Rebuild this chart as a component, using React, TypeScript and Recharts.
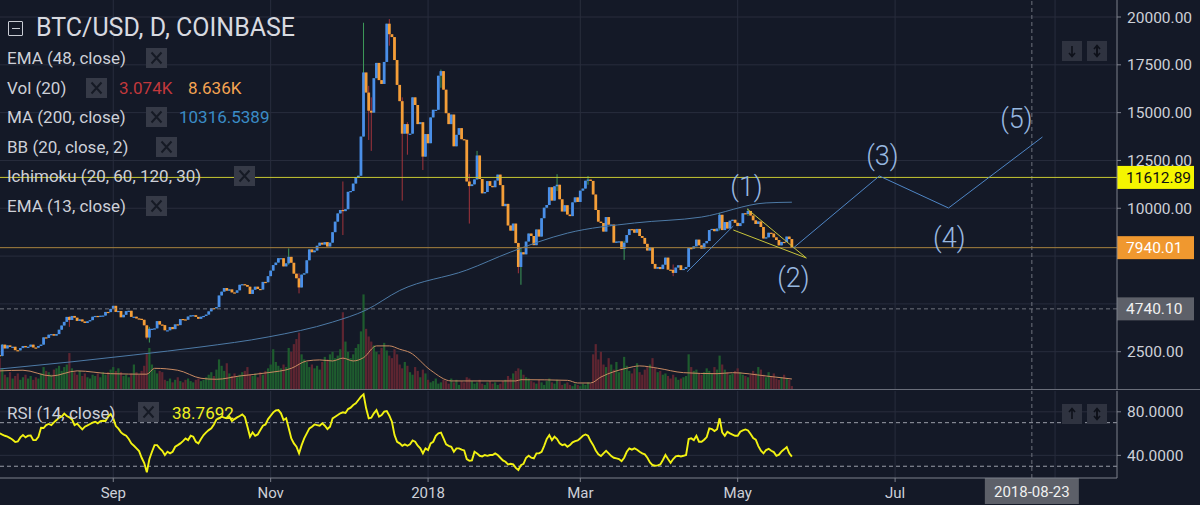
import React from 'react';
import { ComposedChart, Bar, Line, XAxis, YAxis, ReferenceLine, ReferenceDot, CartesianGrid } from 'recharts';

// ---------- DATA (day index 0 = 2017-07-19, BTC/USD daily, Coinbase) ----------
const START_OPEN = 2320;
const closeJul17 = [2280, 2870, 2670, 2830, 2750, 2760, 2580, 2570, 2690, 2800, 2730, 2760, 2870];
const closeAug17 = [2720, 2710, 2800, 2870, 3250, 3220, 3390, 3420, 3340, 3420, 3650, 3870, 4060, 4320, 4160, 4370, 4280, 4110, 4190, 4080, 4000, 4090, 4150, 4330, 4370, 4350, 4380, 4390, 4580, 4570, 4740];
const closeSep17 = [4900, 4580, 4630, 4300, 4430, 4620, 4640, 4320, 4330, 4240, 4220, 4170, 3880, 3240, 3700, 3700, 3720, 4100, 3920, 3890, 3620, 3620, 3790, 3680, 3930, 3890, 4210, 4190, 4170, 4340];
const closeOct17 = [4400, 4410, 4320, 4220, 4330, 4370, 4440, 4610, 4780, 4770, 4830, 5440, 5640, 5830, 5690, 5760, 5600, 5580, 5710, 6000, 6030, 5990, 5900, 5520, 5740, 5900, 5780, 5750, 6150, 6130, 6450];
const closeNov17 = [6740, 7030, 7160, 7390, 7390, 6960, 7120, 7460, 7150, 6580, 6340, 5860, 6530, 6600, 7280, 7850, 7700, 7790, 8040, 8200, 8100, 8230, 8000, 8200, 8750, 9300, 9730, 9910, 9850, 9950];
const closeDec17 = [10860, 10900, 11290, 11620, 11700, 13750, 17100, 16050, 15100, 15000, 16800, 17600, 16700, 16500, 17650, 19650, 19100, 18950, 17750, 16450, 15600, 13900, 14400, 13900, 13900, 15800, 15400, 14400, 14500, 12700, 13880];
const closeJan18 = [13400, 14750, 15150, 15150, 16930, 17170, 16200, 14970, 14400, 14900, 13240, 13840, 14190, 13610, 13580, 11400, 11160, 11250, 11510, 12760, 11530, 10780, 10850, 11420, 11170, 11100, 11450, 11760, 11210, 10110, 10230];
const closeFeb18 = [9100, 8830, 9200, 8180, 6930, 7700, 7590, 8260, 8680, 8550, 8070, 8890, 8520, 9480, 10030, 10170, 11100, 10400, 11150, 11230, 10470, 9830, 10160, 9670, 9590, 10310, 10570, 10330];
const closeMar18 = [10920, 11030, 11440, 11500, 11430, 10720, 9910, 9300, 9230, 8780, 9540, 9140, 9150, 8200, 8260, 8270, 7870, 8200, 8600, 8910, 8900, 8720, 8920, 8550, 8450, 8140, 7790, 7950, 7090, 6840, 6930];
const closeApr18 = [6820, 7050, 7420, 6790, 6780, 6620, 6900, 7020, 6770, 6830, 6930, 7920, 7890, 8010, 8360, 8060, 7890, 8170, 8290, 8860, 8920, 8800, 8940, 9660, 8860, 9280, 8940, 9350, 9400, 9240];
const closeMay18 = [9070, 9220, 9740, 9700, 9860, 9620, 9370, 9180, 9310, 9020, 8420, 8480, 8720, 8680, 8480, 8340, 8060, 8240, 8230, 8520, 8390, 7940.01];

// notable wicks: [day, high, low]
const wicks: [number, number, number][] = [
  [1, 2900, 2260], [27, 4350, 3800], [57, 3900, 3150], [58, 3800, 2980], [112, 7900, 7050],
  [116, 6600, 5550], [133, 11400, 8600], [141, 19700, 13750], [143, 16400, 13570], [144, 15800, 13000],
  [151, 19891, 18500], [156, 15800, 10400], [158, 14500, 12800], [164, 14500, 12000], [171, 17250, 16300],
  [182, 11800, 9200], [185, 13000, 11500], [201, 8200, 6600], [202, 7900, 6000], [216, 11780, 10900],
  [228, 11690, 11230], [242, 8300, 7300], [261, 7060, 6450], [279, 9760, 8840], [290, 9990, 9600],
];

// volume (thousand BTC)
const volJul17 = [25, 17, 12, 10, 14, 9, 11, 13, 8, 10, 12, 9, 11];
const volAug17 = [8, 10, 9, 13, 18, 15, 14, 12, 16, 17, 19, 15, 18, 20, 29, 17, 14, 12, 15, 11, 13, 10, 9, 12, 11, 13, 10, 14, 12, 14, 16];
const volSep17 = [18, 15, 17, 14, 11, 12, 10, 13, 20, 14, 12, 15, 19, 29, 33, 20, 16, 13, 15, 14, 8, 7, 9, 6, 8, 10, 7, 6, 8, 9];
const volOct17 = [7, 6, 8, 9, 7, 8, 10, 12, 14, 11, 16, 24, 19, 15, 21, 13, 11, 13, 10, 12, 14, 15, 18, 12, 11, 13, 10, 14, 12, 15, 17];
const volNov17 = [20, 32, 22, 19, 17, 20, 18, 33, 30, 36, 40, 45, 28, 24, 22, 18, 20, 17, 19, 16, 22, 26, 24, 28, 30, 25, 27, 32, 61, 38];
const volDec17 = [30, 25, 28, 33, 36, 46, 75, 48, 42, 38, 35, 30, 28, 33, 37, 31, 27, 25, 32, 28, 20, 17, 22, 19, 14, 12, 18, 15, 10, 16, 13];
const volJan18 = [8, 6, 7, 9, 5, 6, 8, 7, 5, 9, 6, 8, 4, 7, 6, 10, 9, 7, 5, 6, 8, 5, 4, 6, 7, 5, 6, 4, 5, 7, 8];
const volFeb18 = [11, 9, 13, 15, 17, 16, 12, 10, 9, 7, 6, 5, 8, 6, 4, 7, 9, 6, 5, 8, 7, 4, 5, 6, 4, 3, 5, 4];
const volMar18 = [3, 5, 4, 6, 5, 28, 36, 24, 30, 20, 18, 25, 20, 16, 22, 14, 17, 26, 19, 15, 13, 17, 21, 14, 12, 16, 18, 20, 25, 17, 14];
const volApr18 = [15, 12, 13, 11, 9, 12, 10, 8, 9, 10, 11, 28, 18, 15, 16, 13, 12, 14, 17, 15, 13, 18, 16, 27, 20, 16, 14, 12, 13, 15];
const volMay18 = [17, 14, 12, 11, 10, 12, 15, 13, 18, 16, 12, 10, 14, 11, 13, 9, 8, 10, 12, 9, 8, 3.074];

// Vol MA(20) read points [day, value]
const volMaPoints: [number, number][] = [
  [0, 15], [9, 15.5], [20, 11], [30, 15], [43, 12.8], [57, 12.4], [60, 17], [69, 15.5], [78, 9.2], [84, 8.4],
  [93, 11], [104, 13.6], [113, 17], [119, 22.8], [124, 23.6], [129, 22.8], [133, 25], [137, 22.8], [141, 25.4],
  [146, 34.6], [151, 34.6], [155, 32], [159, 29.4], [167, 15.5], [175, 7.1], [200, 7.1], [202, 8.1], [220, 7.6],
  [224, 5.5], [229, 5.5], [233, 10.2], [243, 17.1], [248, 18.9], [255, 17.1], [265, 13.6], [278, 12.8],
  [284, 13.6], [297, 11], [307, 8.636],
];

// MA(200) read points [day, value]
const ma200Points: [number, number][] = [
  [0, 1600], [4, 1650], [52, 2330], [78, 2750], [104, 3270], [129, 4050], [142, 4680], [155, 5700],
  [181, 6770], [198, 7710], [220, 8700], [246, 9230], [272, 9540], [297, 10280], [307, 10316.5389],
];

// RSI(14)
const rsiJul17 = [60.2, 59, 58, 57.1, 55.9, 54.3, 52.2, 52.8, 56.5, 58.6, 56.5, 58, 58.3];
const rsiAug17 = [54, 54, 57.1, 65.4, 65.1, 67.8, 68.8, 67.8, 70.3, 72.4, 74.6, 75.5, 78.3, 76.1, 74.9, 73, 67.8, 69.1, 66.3, 63.8, 66.3, 67.5, 68.8, 70, 70.9, 69.4, 71.5, 71.8, 71.5, 75.5, 78];
const rsiSep17 = [74, 66.9, 64.5, 61.1, 59.2, 58, 55, 51, 48.8, 46.4, 43.9, 37.8, 33, 24.5, 36.6, 43.3, 49.4, 49.4, 46.4, 44.2, 40.3, 43.3, 41.8, 43.3, 47.9, 49.4, 51, 53.1, 55.6, 54];
const rsiOct17 = [58, 57.1, 52.5, 51, 55, 58.6, 61.1, 63.2, 64.8, 68.4, 73, 74, 75.5, 74.6, 74, 75.5, 71.5, 73.3, 74.9, 76.1, 77.6, 75.2, 66.3, 57.1, 61.1, 58, 59.2, 63.2, 67.2, 68.4, 73.3];
const rsiNov17 = [76.4, 79.5, 81.3, 81.6, 78.6, 72.4, 74, 64.8, 55.6, 51, 47.9, 41.8, 49.4, 55.6, 60.2, 64.8, 66.3, 68.4, 67.8, 67.2, 69.4, 67.2, 64.2, 66.3, 74, 75.5, 77, 78.6, 79.5, 78.9];
const rsiDec17 = [82.5, 83.8, 86.2, 87.7, 90.8, 93.9, 96, 83.2, 74, 74.6, 78.6, 81.6, 75.5, 77, 80.1, 80.7, 76.4, 70.9, 58.6, 52.5, 51, 48.8, 50.1, 48.8, 50.1, 53.7, 52.5, 48.8, 46.4, 41.8, 46.4];
const rsiJan18 = [44.9, 51, 52.5, 58, 60.2, 60.8, 55.6, 50.1, 48.8, 47.9, 43.3, 46.4, 46.4, 45.2, 44.5, 36.6, 35, 35.4, 43.3, 41.8, 39.6, 39, 40.3, 39.6, 40.3, 40.3, 41.8, 40.3, 37.8, 35.4, 34.1];
const rsiFeb18 = [31.7, 32.3, 31.7, 28.5, 26.5, 31, 32.3, 37.8, 39.6, 37.8, 37.2, 41.8, 41.8, 43.3, 48.8, 55, 58.6, 54, 57.1, 55, 51, 49.4, 50.1, 47.9, 49.4, 51.9, 53.1, 53.7];
const rsiMar18 = [55.6, 58, 59.2, 58, 53.1, 49.4, 44.5, 40.9, 39.3, 41.8, 44.2, 41.8, 39.3, 37.8, 37.2, 36.6, 34.7, 37.8, 43.3, 46.4, 45.2, 46.4, 45.2, 43.3, 41.8, 40.9, 37.8, 33.5, 31.1, 30.5, 30.8];
const rsiApr18 = [31.7, 35.7, 40.3, 36.6, 33.2, 36.6, 39, 39.6, 39, 39.6, 40.3, 55, 55.6, 54, 58, 52.5, 52.5, 54.4, 56.8, 64.8, 64.2, 62.3, 64, 74, 61.1, 58, 61.7, 60.2, 59, 58];
const rsiMay18 = [58, 61.7, 62.9, 63.8, 62.9, 59.6, 55.9, 54.4, 48.5, 44.2, 41.8, 44.9, 46, 44.2, 43, 39.6, 40.6, 43.6, 45.5, 47.6, 41.8, 38.7692];

// axes / levels / drawings
const xGridTicks = [44, 105, 166, 225, 286, 347, 409];
const xTickLabels: Record<number, string> = { 44: 'Sep', 105: 'Nov', 166: '2018', 225: 'Mar', 286: 'May', 347: 'Jul' };
const priceTicks = [2500, 5000, 7500, 10000, 12500, 15000, 17500, 20000];
const priceLabelTicks = [2500, 10000, 12500, 15000, 17500, 20000];
const rsiTicks = [40, 80];
const rsiBands = [30, 70];
const resistanceLevel = 11612.89;
const crossPrice = 4740.1;
const crossDay = 400;
const crossDateLabel = '2018-08-23';
const impulseLeg: [number, number][] = [[266.4, 6680], [284.3, 9072]];
const wedgeUpper: [number, number][] = [[289.7, 9961], [312.6, 7400]];
const wedgeLower: [number, number][] = [[284.3, 8863], [312.6, 7400]];
const wavePath: [number, number][] = [[307.6, 7926], [340.9, 11687], [367.7, 10014], [404.1, 13726]];
const waveLabels: [string, number, number][] = [
  ['(1)', 289.4, 11164], ['(2)', 307.6, 6406], ['(3)', 342.1, 12785], ['(4)', 368, 8497], ['(5)', 394, 14719],
];

// ---------- STYLE ----------
const X_MIN = 0.1, X_MAX = 433;
const P_MIN = 498, P_MAX = 20889;
const VOL_MAX = 306;
const RSI_MIN = 19.2, RSI_MAX = 99.1;
const BG = '#141927';
const GRID = '#282d3d';
const AXIS = '#7d818c';
const TEXT = '#cdd0d8';
const UP = '#4a8fe8';
const DOWN = '#f49e38';
const WICK_UP = '#3d9a5a';
const WICK_DOWN = '#a3343c';
const VOL_UP = '#1e5c2e';
const VOL_DOWN = '#5e2531';
const RSI_COLOR = '#f2f212';
const WAVE = '#4f86c6';
const WAVE_TEXT = '#98b8e0';
const FONT = 'Roboto, "Liberation Sans", sans-serif';

// ---------- build table ----------
const closes = [...closeJul17, ...closeAug17, ...closeSep17, ...closeOct17, ...closeNov17, ...closeDec17, ...closeJan18, ...closeFeb18, ...closeMar18, ...closeApr18, ...closeMay18];
const volumes = [...volJul17, ...volAug17, ...volSep17, ...volOct17, ...volNov17, ...volDec17, ...volJan18, ...volFeb18, ...volMar18, ...volApr18, ...volMay18];
const rsiSeries = [...rsiJul17, ...rsiAug17, ...rsiSep17, ...rsiOct17, ...rsiNov17, ...rsiDec17, ...rsiJan18, ...rsiFeb18, ...rsiMar18, ...rsiApr18, ...rsiMay18];
const maMap = new Map(ma200Points);
const vmaMap = new Map(volMaPoints);
const wickMap = new Map(wicks.map((w) => [w[0], w]));

const data = closes.map((c, i) => {
  const o = i === 0 ? START_OPEN : closes[i - 1];
  const w = wickMap.get(i);
  const hi = Math.max(o, c, w ? w[1] : 0);
  const lo = Math.min(o, c, w ? w[2] : Infinity);
  return {
    i, o, c, hi, lo, range: [lo, hi],
    vol: volumes[i] ?? 0,
    ma: maMap.has(i) ? maMap.get(i) : null,
    vma: vmaMap.has(i) ? vmaMap.get(i) : null,
    rsi: rsiSeries[i] ?? null,
  };
});
const last = data[data.length - 1];

// ---------- shapes ----------
function Candle(props: any) {
  const { x, y, width, height, payload } = props;
  if (!payload || x == null || y == null) return null;
  const { o, c, hi, lo } = payload;
  const top = Math.min(y, y + height);
  const h = Math.abs(height || 0);
  const cx = x + (width || 0) / 2;
  const k = hi > lo ? h / (hi - lo) : 0;
  const py = (v: number) => top + (hi - v) * k;
  const up = c >= o;
  const bTop = py(Math.max(o, c));
  const bH = Math.max(1.2, Math.abs(py(o) - py(c)));
  return (
    <g>
      {h > 0 && <line x1={cx} x2={cx} y1={top} y2={top + h} stroke={up ? WICK_UP : WICK_DOWN} strokeWidth={1} />}
      <rect x={cx - 1.4} y={bTop} width={2.8} height={bH} fill={up ? UP : DOWN} />
    </g>
  );
}

function VolBar(props: any) {
  const { x, y, width, height, payload } = props;
  if (!payload || x == null) return null;
  const cx = x + (width || 0) / 2;
  return <rect x={cx - 1.1} y={Math.min(y, y + height)} width={2.2} height={Math.abs(height || 0)} fill={payload.c >= payload.o ? VOL_UP : VOL_DOWN} />;
}

const priceTag = (text: string, bg: string, color: string) => (p: any) => {
  const vb = p.viewBox || {};
  const x0 = vb.x + vb.width;
  const yc = vb.y;
  return (
    <g>
      <rect x={x0} y={yc - 11.5} width={77} height={23} fill={bg} />
      <text x={x0 + 9} y={yc} dy="0.36em" fill={color} fontSize={15.5} fontFamily={FONT}>{text}</text>
    </g>
  );
};

const dateTag = (p: any) => {
  const vb = p.viewBox || {};
  const cx = vb.x;
  const yb = vb.y + vb.height;
  return (
    <g>
      <rect x={cx - 47} y={yb} width={94} height={27} fill="#5d6069" />
      <text x={cx} y={yb + 14} dy="0.36em" textAnchor="middle" fill="#f0f0f0" fontSize={15} fontFamily={FONT}>{crossDateLabel}</text>
    </g>
  );
};

// ---------- HTML decorations ----------
const XBox = ({ left, top }: { left: number; top: number }) => (
  <div style={{ position: 'absolute', left, top, width: 21, height: 20, background: '#363a47' }}>
    <svg width={21} height={20} style={{ display: 'block' }}>
      <path d="M5.5 4.5 L15.5 15.5 M15.5 4.5 L5.5 15.5" stroke="#161a25" strokeWidth={2} />
    </svg>
  </div>
);

const ArrowBtn = ({ left, top, kind }: { left: number; top: number; kind: 'down' | 'up' | 'both' }) => (
  <div style={{ position: 'absolute', left, top, width: 20, height: 20, background: '#2f3340' }}>
    <svg width={20} height={20} style={{ display: 'block' }}>
      {kind !== 'up' && <path d="M10 5 L10 15 M7 12 L10 15.5 L13 12" stroke="#0e111a" strokeWidth={1.6} fill="none" />}
      {kind !== 'down' && <path d="M10 15 L10 5 M7 8 L10 4.5 L13 8" stroke="#0e111a" strokeWidth={1.6} fill="none" />}
    </svg>
  </div>
);

const Txt = ({ left, cy, size, color, children }: any) => (
  <div style={{ position: 'absolute', left, top: cy - size * 0.65, fontSize: size, lineHeight: `${size * 1.3}px`, color, fontFamily: FONT, whiteSpace: 'nowrap' }}>{children}</div>
);

const Overlay = () => {
  const rows: [string, number, number][] = [
    ['EMA (48, close)', 58, 146],
    ['Vol (20)', 88, 86],
    ['MA (200, close)', 117, 146],
    ['BB (20, close, 2)', 147, 156],
    ['Ichimoku (20, 60, 120, 30)', 176, 234],
    ['EMA (13, close)', 206, 146],
  ];
  return (
    <>
      <div style={{ position: 'absolute', left: 8, top: 21, width: 13, height: 13, border: '1.5px solid #c9ccd4', borderRadius: 1 }}>
        <div style={{ position: 'absolute', left: 2.5, top: 5.5, width: 8, height: 1.5, background: '#c9ccd4' }} />
      </div>
      <Txt left={36} cy={28} size={25} color="#d8dae0">BTC/USD, D, COINBASE</Txt>
      {rows.map(([t, cy, bx]) => (
        <React.Fragment key={t}>
          <Txt left={7} cy={cy} size={17} color={TEXT}>{t}</Txt>
          <XBox left={bx} top={cy - 10} />
        </React.Fragment>
      ))}
      <Txt left={119} cy={88} size={17} color="#c2383c">{last.vol.toFixed(3)}K</Txt>
      <Txt left={188} cy={88} size={17} color="#f5a452">{(last.vma as number).toFixed(3)}K</Txt>
      <Txt left={179} cy={117} size={17} color="#3a8cc6">{(last.ma as number).toFixed(4)}</Txt>
      <ArrowBtn left={1062} top={41} kind="down" />
      <ArrowBtn left={1087} top={41} kind="both" />
      <div style={{ position: 'absolute', left: 0, top: 389, width: 1200, height: 1, background: '#6a6e7a' }} />
      <Txt left={7} cy={413} size={17} color={TEXT}>RSI (14, close)</Txt>
      <XBox left={138} top={402} />
      <Txt left={172} cy={413} size={17} color="#f0f020">{(last.rsi as number).toFixed(4)}</Txt>
      <ArrowBtn left={1062} top={404} kind="up" />
      <ArrowBtn left={1087} top={404} kind="both" />
    </>
  );
};

export default function App() {
  const yTick = { fill: TEXT, fontSize: 15.5, fontFamily: FONT };
  return (
    <div style={{ position: 'fixed', left: 0, top: 0, width: 1200, height: 513, background: '#ffffff', overflow: 'hidden' }}>
      <div style={{ position: 'absolute', left: 0, top: 0, width: 1200, height: 505, background: BG }} />
      <div style={{ position: 'absolute', left: 0, top: 0 }}>
        <ComposedChart width={1200} height={390} data={data} margin={{ top: 0, right: 0, bottom: 0, left: 0 }}>
          <CartesianGrid stroke={GRID} horizontalValues={priceTicks} verticalValues={xGridTicks} />
          <XAxis type="number" dataKey="i" domain={[X_MIN, X_MAX]} hide allowDataOverflow />
          <XAxis xAxisId="vol" type="number" dataKey="i" domain={[X_MIN, X_MAX]} hide allowDataOverflow />
          <YAxis orientation="right" width={83} domain={[P_MIN, P_MAX]} ticks={priceLabelTicks} interval={0} allowDataOverflow
            tickFormatter={(v: number) => v.toFixed(2)} tick={yTick} tickLine={{ stroke: AXIS }} axisLine={{ stroke: AXIS }} tickSize={4} tickMargin={6} />
          <YAxis yAxisId="vol" hide domain={[0, VOL_MAX]} allowDataOverflow />
          <Bar xAxisId="vol" yAxisId="vol" dataKey="vol" shape={(p: any) => <VolBar {...p} />} isAnimationActive={false} />
          <Line xAxisId="vol" yAxisId="vol" dataKey="vma" connectNulls type="monotone" dot={false} activeDot={false} stroke="#c98a62" strokeWidth={1} isAnimationActive={false} />
          <Line dataKey="ma" connectNulls type="monotone" dot={false} activeDot={false} stroke="#4d7aa6" strokeWidth={1} isAnimationActive={false} />
          <ReferenceLine y={crossPrice} stroke="#6f737e" strokeDasharray="4 3" label={priceTag(crossPrice.toFixed(2), '#5d6069', '#f0f0f0')} />
          <ReferenceLine x={crossDay} stroke="#6f737e" strokeDasharray="4 3" />
          <Bar dataKey="range" shape={(p: any) => <Candle {...p} />} isAnimationActive={false} />
          <ReferenceLine y={resistanceLevel} stroke="#c9c832" strokeWidth={1} label={priceTag(resistanceLevel.toFixed(2), '#f5f500', '#111111')} />
          <ReferenceLine y={last.c} stroke="#a8823e" strokeWidth={1} label={priceTag(last.c.toFixed(2), '#f0982f', '#ffffff')} />
          <ReferenceLine segment={[{ x: impulseLeg[0][0], y: impulseLeg[0][1] }, { x: impulseLeg[1][0], y: impulseLeg[1][1] }]} stroke={WAVE} strokeWidth={1} />
          <ReferenceLine segment={[{ x: wedgeUpper[0][0], y: wedgeUpper[0][1] }, { x: wedgeUpper[1][0], y: wedgeUpper[1][1] }]} stroke="#c8c43a" strokeWidth={1} />
          <ReferenceLine segment={[{ x: wedgeLower[0][0], y: wedgeLower[0][1] }, { x: wedgeLower[1][0], y: wedgeLower[1][1] }]} stroke="#c8c43a" strokeWidth={1} />
          {wavePath.slice(1).map((p, k) => (
            <ReferenceLine key={'w' + k} segment={[{ x: wavePath[k][0], y: wavePath[k][1] }, { x: p[0], y: p[1] }]} stroke={WAVE} strokeWidth={1} />
          ))}
          {waveLabels.map(([t, x, y]) => (
            <ReferenceDot key={t} x={x} y={y} r={1} fill="none" stroke="none"
              label={{ value: t, position: 'center', fill: WAVE_TEXT, fontSize: 27, fontFamily: FONT, fontWeight: 300 }} />
          ))}
        </ComposedChart>
      </div>
      <div style={{ position: 'absolute', left: 0, top: 390 }}>
        <ComposedChart width={1200} height={114} data={data} margin={{ top: 1, right: 0, bottom: 0, left: 0 }}>
          <CartesianGrid stroke={GRID} horizontalValues={rsiTicks} verticalValues={xGridTicks} />
          <XAxis type="number" dataKey="i" domain={[X_MIN, X_MAX]} allowDataOverflow ticks={Object.keys(xTickLabels).map(Number)} interval={0}
            tickFormatter={(v: number) => xTickLabels[v] ?? ''} height={26} tick={{ fill: TEXT, fontSize: 15, fontFamily: FONT }}
            tickLine={{ stroke: AXIS }} axisLine={{ stroke: AXIS }} tickSize={4} tickMargin={5} />
          <YAxis orientation="right" width={83} domain={[RSI_MIN, RSI_MAX]} ticks={rsiTicks} interval={0} allowDataOverflow
            tickFormatter={(v: number) => v.toFixed(4)} tick={yTick} tickLine={{ stroke: AXIS }} axisLine={{ stroke: AXIS }} tickSize={4} tickMargin={6} />
          {rsiBands.map((b) => <ReferenceLine key={b} y={b} stroke="#9a9ea8" strokeDasharray="4 3" />)}
          <ReferenceLine x={crossDay} stroke="#6f737e" strokeDasharray="4 3" label={dateTag} />
          <Line dataKey="rsi" type="linear" dot={false} activeDot={false} stroke={RSI_COLOR} strokeWidth={1.9} isAnimationActive={false} />
        </ComposedChart>
      </div>
      <Overlay />
    </div>
  );
}
